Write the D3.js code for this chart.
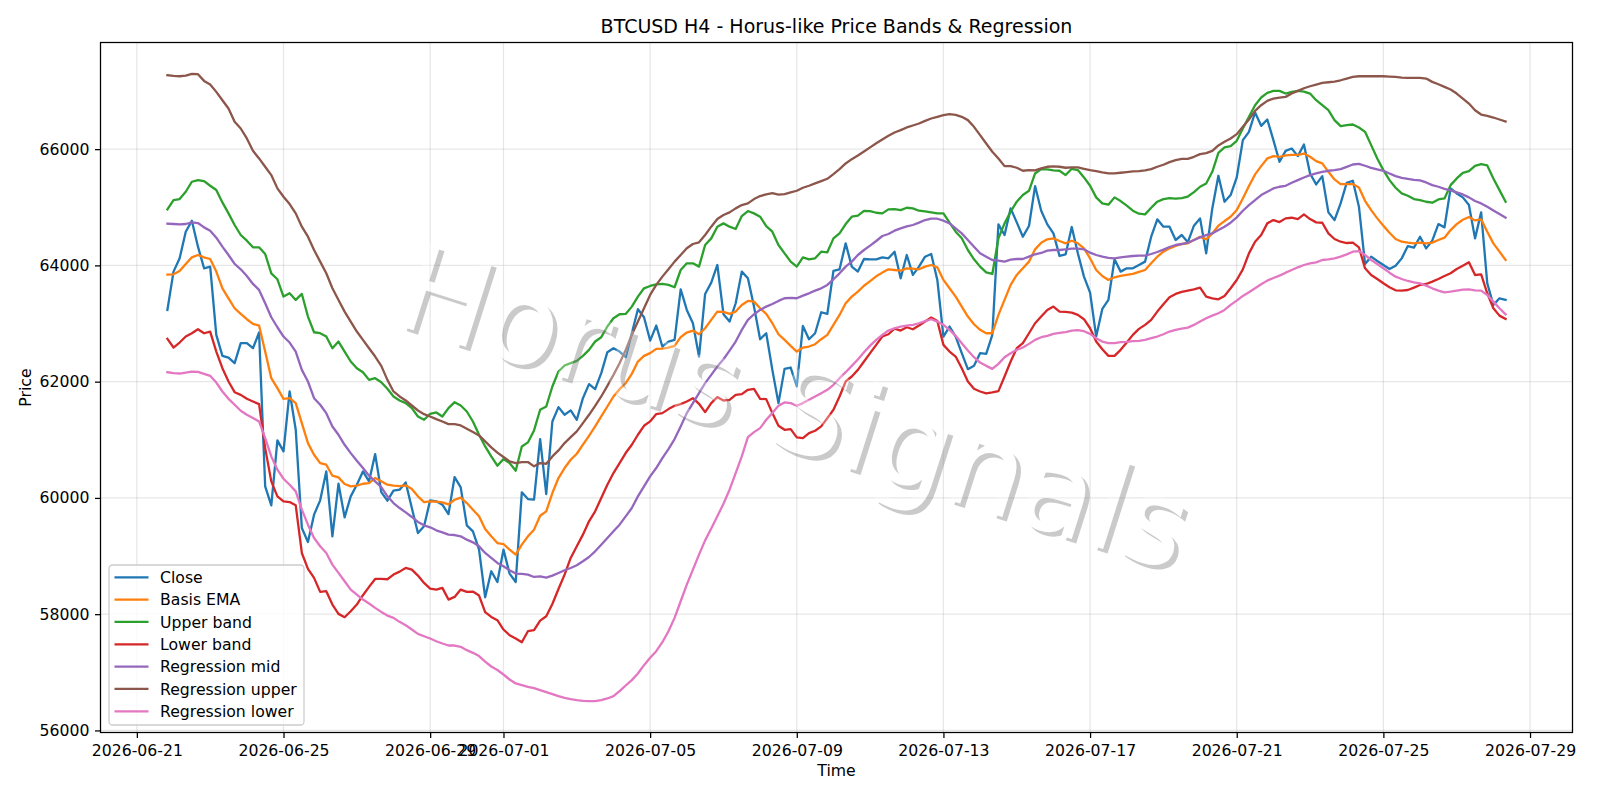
<!DOCTYPE html>
<html>
<head>
<meta charset="utf-8">
<title>BTCUSD H4</title>
<script src="https://cdn.jsdelivr.net/npm/d3@7/dist/d3.min.js"></script>
<style>
  html, body { margin: 0; padding: 0; background: #fff; }
  svg { display: block; font-family: "DejaVu Sans", sans-serif; }
</style>
</head>
<body>
<svg id="chart" width="1600" height="800"></svg>
<script>
// Four-hour bars: first bar time and bar spacing
const firstBar = "2026-06-21T20:00:00Z";
const barHours = 4;

const close = [
  63234,63893,64122,64580,64769,64322,63950,63979,62805,62444,
  62415,62318,62662,62662,62575,62845,60198,59872,60989,60800,
  61831,61172,59483,59242,59712,59958,60456,59340,60244,59666,
  60027,60227,60456,60285,60754,60101,59952,60124,60141,60267,
  59826,59397,59511,59958,59941,59884,59723,60359,60181,59528,
  59425,59110,58291,58738,58554,59110,58698,58554,60096,59981,
  59970,61012,60067,61315,61562,61430,61505,61344,61716,61957,
  61871,62146,62507,62576,62518,62421,62833,63246,63108,62707,
  62965,62604,62690,62719,63589,63234,63005,62432,63509,63704,
  64007,63160,63034,63349,63893,63778,63291,62730,62833,62203,
  61631,62220,62243,61917,62959,62730,62833,63194,63165,63904,
  63933,64379,63979,63893,64110,64105,64105,64139,64122,64236,
  63778,64179,63836,63979,64150,64196,63750,62776,62948,62776,
  62490,62215,62272,62490,62478,62805,64706,64523,64981,64740,
  64494,64677,65365,64941,64706,64551,64162,64191,64660,64208,
  63807,63532,62776,63251,63406,64105,63893,63950,63950,64007,
  64065,64494,64792,64666,64666,64437,64523,64400,64683,64809,
  64207,64980,65542,65095,65210,65513,66155,66298,66630,66401,
  66510,66155,65782,65971,66011,65880,66080,65582,65393,65536,
  64912,64780,65066,65421,65456,65009,64024,64150,64076,64007,
  63938,63995,64121,64333,64305,64494,64293,64425,64711,64654,
  65324,65238,65170,65038,64465,64912,63692,63320,63434,63406
];

const basisEma = [
  63841,63847,63904,64025,64139,64179,64139,64110,63893,63606,
  63434,63263,63165,63074,62994,62965,62518,62060,61888,61705,
  61716,61630,61287,60943,60743,60599,60571,60382,60353,60239,
  60199,60210,60244,60256,60342,60285,60227,60210,60204,60216,
  60153,60027,59929,59941,59935,59924,59889,59969,60004,59912,
  59798,59683,59465,59339,59224,59207,59110,59024,59196,59339,
  59454,59694,59769,60084,60342,60514,60657,60760,60915,61069,
  61230,61401,61573,61745,61871,61974,62134,62346,62444,62490,
  62564,62570,62587,62616,62765,62845,62879,62816,62919,63062,
  63206,63200,63165,63206,63320,63389,63377,63263,63165,63005,
  62816,62719,62616,62518,62587,62604,62644,62730,62805,62976,
  63148,63349,63463,63549,63650,63730,63812,63876,63933,63921,
  63910,63950,63944,63933,63979,64007,63967,63750,63606,63463,
  63291,63120,62988,62891,62833,62833,63148,63406,63664,63836,
  63950,64065,64276,64391,64448,64465,64420,64380,64425,64380,
  64294,64122,63921,63818,63750,63795,63818,63836,63853,63887,
  63921,64036,64150,64236,64294,64334,64368,64380,64437,64494,
  64448,64551,64683,64763,64837,64952,65152,65364,65565,65708,
  65840,65880,65868,65891,65903,65903,65925,65868,65794,65754,
  65610,65479,65399,65399,65399,65341,65112,64952,64809,64683,
  64562,64454,64408,64391,64379,64391,64379,64391,64437,64477,
  64608,64711,64786,64832,64774,64792,64580,64379,64236,64093
];

const upperBand = [
  64964,65124,65141,65267,65439,65468,65451,65370,65296,65084,
  64895,64695,64523,64425,64311,64311,64196,63864,63761,63463,
  63521,63406,63509,63120,62850,62833,62776,62575,62690,62518,
  62347,62232,62163,62031,62060,61991,61877,61745,61676,61630,
  61544,61401,61344,61447,61470,61401,61544,61647,61590,61487,
  61315,61086,60886,60714,60554,60668,60600,60468,60886,60955,
  61161,61516,61573,61917,62175,62278,62318,62358,62444,62547,
  62690,62765,62948,63091,63160,63165,63291,63463,63606,63646,
  63675,63681,63664,63624,63921,64036,64036,63979,64351,64465,
  64666,64723,64666,64626,64849,64935,64895,64838,64677,64580,
  64351,64208,64065,63979,64139,64105,64122,64236,64225,64465,
  64551,64712,64838,64855,64938,64935,64906,64895,64964,64969,
  64952,64992,64981,64941,64929,64912,64895,64895,64735,64580,
  64466,64265,64105,63979,63881,63853,64466,64723,64924,65096,
  65210,65284,65582,65657,65651,65634,65628,65554,65662,65640,
  65514,65370,65170,65067,65044,65170,65107,65027,64941,64889,
  64878,64992,65096,65141,65159,65147,65159,65185,65260,65353,
  65410,65610,65937,66029,66051,66143,66355,66555,66756,66888,
  66968,67002,67002,66956,66985,67002,66991,66956,66842,66756,
  66670,66498,66395,66412,66424,66372,66298,66069,65840,65639,
  65467,65336,65238,65198,65141,65124,65095,65078,65135,65152,
  65381,65496,65593,65622,65714,65742,65719,65496,65295,65095
];

const lowerBand = [
  62736,62587,62673,62776,62833,62902,62833,62862,62518,62232,
  62003,61819,61773,61705,61659,61613,60857,60284,60027,59941,
  59929,59872,59053,58778,58624,58383,58395,58165,58005,57948,
  58051,58165,58326,58469,58606,58606,58601,58681,58732,58795,
  58767,58664,58538,58440,58423,58452,58251,58297,58423,58383,
  58389,58320,58035,57953,57896,57736,57638,57581,57518,57707,
  57724,57890,57965,58176,58434,58680,58967,59167,59368,59597,
  59769,59998,60227,60428,60600,60772,60915,61087,61241,61316,
  61442,61459,61528,61585,61613,61659,61716,61619,61476,61630,
  61734,61676,61688,61774,61785,61860,61877,61705,61699,61459,
  61241,61172,61184,61041,61029,61115,61155,61230,61373,61516,
  61745,62003,62089,62203,62346,62490,62633,62776,62816,62913,
  62879,62936,62902,62965,63034,63103,63045,62633,62518,62432,
  62232,62003,61877,61831,61797,61814,61837,62089,62346,62576,
  62662,62833,63005,63120,63234,63291,63206,63200,63188,63148,
  63074,62919,62690,62558,62444,62444,62547,62673,62805,62908,
  62977,63062,63206,63331,63452,63509,63543,63566,63589,63617,
  63463,63434,63417,63474,63606,63749,63932,64207,64408,64522,
  64723,64780,64746,64809,64820,64797,64877,64797,64740,64734,
  64551,64454,64408,64385,64391,64310,63950,63835,63766,63692,
  63623,63572,63566,63577,63617,63663,63680,63720,63766,63818,
  63864,63938,63995,64053,63835,63847,63520,63262,63136,63079
];

const regressionMid = [
  64717,64712,64706,64712,64740,64729,64654,64597,64477,64322,
  64179,64025,63933,63818,63681,63578,63349,63108,62936,62776,
  62673,62518,62203,62003,61716,61602,61458,61229,61086,60914,
  60771,60640,60514,60382,60285,60187,60027,59912,59826,59752,
  59672,59586,59528,59494,59443,59408,59368,59362,59339,59282,
  59236,59168,59053,58967,58881,58824,58755,58698,58692,58680,
  58640,58652,58629,58663,58709,58755,58795,58841,58910,58984,
  59081,59196,59310,59426,59540,59683,59826,60027,60199,60371,
  60514,60686,60840,61012,61230,61459,61631,61802,61974,62117,
  62261,62386,62535,62690,62890,63062,63160,63234,63291,63337,
  63389,63435,63440,63435,63480,63520,63566,63606,63664,63761,
  63864,63979,64065,64179,64265,64340,64420,64506,64540,64597,
  64637,64672,64695,64735,64780,64803,64803,64769,64723,64637,
  64551,64437,64322,64208,64150,64093,64082,64065,64099,64110,
  64110,64150,64191,64214,64254,64265,64265,64276,64288,64288,
  64276,64219,64179,64150,64128,64122,64139,64150,64162,64168,
  64168,64196,64231,64271,64317,64351,64368,64390,64436,64482,
  64522,64551,64608,64665,64734,64826,64940,65038,65124,65210,
  65267,65324,65353,65370,65421,65467,65513,65553,65582,65610,
  65628,65639,65656,65696,65736,65748,65714,65679,65651,65628,
  65582,65536,65507,65490,65473,65462,65427,65381,65353,65318,
  65290,65255,65221,65170,65107,65066,65010,64946,64883,64820
];

const regressionUpper = [
  67272,67260,67254,67266,67295,67289,67174,67111,66985,66842,
  66699,66470,66355,66184,65972,65840,65697,65554,65325,65181,
  65055,64895,64666,64494,64265,64065,63864,63606,63406,63205,
  63034,62862,62719,62575,62432,62272,62031,61831,61745,61676,
  61590,61504,61441,61401,61355,61315,61269,61269,61247,61189,
  61132,61075,60972,60870,60780,60703,60628,60600,60617,60617,
  60543,60600,60588,60714,60817,60943,61046,61144,61287,61430,
  61585,61745,61928,62117,62318,62547,62805,63034,63263,63492,
  63664,63807,63933,64065,64179,64294,64368,64397,64523,64666,
  64798,64866,64912,64981,65038,65067,65141,65193,65221,65244,
  65216,65227,65256,65284,65336,65370,65410,65450,65490,65571,
  65657,65754,65828,65890,65960,66030,66100,66166,66229,66287,
  66327,66373,66407,66441,66487,66527,66556,66584,66602,66590,
  66556,66499,66384,66241,66098,65955,65840,65708,65708,65680,
  65628,65640,65634,65668,65697,65703,65697,65680,65685,65685,
  65662,65640,65622,65599,65582,65582,65594,65605,65617,65622,
  65634,65657,65697,65731,65777,65811,65834,65834,65868,65914,
  65931,65971,66063,66126,66183,66258,66384,66510,66659,66756,
  66830,66870,66888,66899,66956,67002,67048,67082,67111,67140,
  67151,67162,67185,67214,67243,67254,67254,67254,67254,67254,
  67248,67243,67231,67225,67225,67225,67214,67157,67117,67071,
  67025,66956,66870,66784,66670,66595,66573,66544,66510,66475
];

const regressionLower = [
  62163,62146,62140,62157,62174,62169,62134,62100,61985,61831,
  61705,61602,61499,61430,61373,61315,61029,60714,60485,60330,
  60227,60113,59798,59540,59311,59168,59053,58853,58710,58566,
  58423,58337,58251,58183,58108,58039,57976,57936,57868,57810,
  57736,57661,57621,57581,57535,57495,57461,57461,57438,57381,
  57335,57280,57185,57100,57040,56962,56876,56808,56779,56750,
  56727,56693,56659,56625,56590,56561,56539,56521,56510,56504,
  56504,56521,56550,56590,56676,56773,56865,56979,57123,57249,
  57363,57518,57707,57936,58222,58509,58766,59024,59270,59475,
  59683,59900,60141,60428,60714,61046,61132,61201,61344,61459,
  61585,61642,61631,61585,61631,61688,61745,61802,61860,61946,
  62060,62163,62272,62380,62505,62620,62719,62805,62879,62919,
  62948,62965,62977,63005,63040,63074,63034,62977,62890,62788,
  62662,62536,62421,62329,62272,62220,62306,62421,62490,62547,
  62587,62650,62719,62765,62788,62822,62839,62851,62879,62885,
  62868,62822,62747,62690,62662,62662,62679,62684,62696,62702,
  62719,62747,62776,62816,62862,62891,62913,62930,62976,63033,
  63091,63136,63177,63234,63320,63394,63475,63537,63606,63675,
  63738,63784,63824,63875,63921,63967,64007,64036,64053,64093,
  64104,64121,64150,64190,64236,64247,64179,64093,64024,63950,
  63875,63806,63766,63732,63709,63692,63652,63606,63566,63537,
  63549,63566,63583,63589,63572,63566,63491,63377,63262,63159
];

const seriesNames = ["Close", "Basis EMA", "Upper band", "Lower band",
                     "Regression mid", "Regression upper", "Regression lower"];
const seriesValues = [close, basisEma, upperBand, lowerBand,
                      regressionMid, regressionUpper, regressionLower];
const seriesColors = ["#1f77b4", "#ff7f0e", "#2ca02c", "#d62728",
                      "#9467bd", "#8c564b", "#e377c2"];

const xTickLabels = ["2026-06-21", "2026-06-25", "2026-06-29", "2026-07-01", "2026-07-05",
                     "2026-07-09", "2026-07-13", "2026-07-17", "2026-07-21", "2026-07-25", "2026-07-29"];
const yTickValues = [56000, 58000, 60000, 62000, 64000, 66000];

const chartTitle = "BTCUSD H4 - Horus-like Price Bands & Regression";
const watermarkText = "Horus Signals";

// Layout
const frame = { left: 100.5, right: 1572.5, top: 42.5, bottom: 732.5 };
const fontPx = 15.7, titlePx = 19;
const thin = 1.26, lineW = 2.3;

const svg = d3.select("#chart");

// Axes pad the data range by five per cent on both sides
const times = close.map((_, i) => d3.utcHour.offset(new Date(firstBar), i * barHours));
const allValues = seriesValues.flat();
const pad = (lo, hi) => [lo - (hi - lo) * 0.05, hi + (hi - lo) * 0.05];
const [t0, t1] = pad(+times[0], +times[times.length - 1]);
const [v0, v1] = pad(d3.min(allValues), d3.max(allValues));

const x = d3.scaleUtc().domain([new Date(t0), new Date(t1)]).range([frame.left, frame.right]);
const y = d3.scaleLinear().domain([v0, v1]).range([frame.bottom, frame.top]);
const xTicks = xTickLabels.map(s => new Date(s + "T00:00:00Z"));

// Grid
const grid = svg.append("g").attr("stroke", "#b0b0b0").attr("stroke-opacity", 0.3).attr("stroke-width", thin);
grid.selectAll("line.vx").data(xTicks).join("line").attr("class", "vx")
  .attr("x1", d => x(d)).attr("x2", d => x(d)).attr("y1", frame.top).attr("y2", frame.bottom);
grid.selectAll("line.hy").data(yTickValues).join("line").attr("class", "hy")
  .attr("y1", d => y(d)).attr("y2", d => y(d)).attr("x1", frame.left).attr("x2", frame.right);

// Price and band lines
const line = d3.line().x((_, i) => x(times[i])).y(d => y(d));
svg.append("g").selectAll("path").data(seriesValues).join("path")
  .attr("d", line)
  .attr("fill", "none")
  .attr("stroke", (_, i) => seriesColors[i])
  .attr("stroke-width", lineW)
  .attr("stroke-linejoin", "round")
  .attr("stroke-linecap", "square");

// Embossed watermark laid over the lines: a grey rim peeks out behind pale lettering
const wmOrigin = { x: 391, y: 323 }, wmAngle = 17.6, wmSize = 120, wmRim = 4.5;
const wmTransform = off => `translate(${wmOrigin.x + off},${wmOrigin.y + off}) rotate(${wmAngle})`;
const mask = svg.append("defs").append("mask").attr("id", "wm-mask").attr("maskUnits", "userSpaceOnUse")
  .attr("x", 0).attr("y", 0).attr("width", 1600).attr("height", 800);
mask.append("rect").attr("width", 1600).attr("height", 800).attr("fill", "#fff");
mask.append("text").text(watermarkText).attr("transform", wmTransform(0))
  .attr("font-size", wmSize).attr("fill", "#000");
const wm = svg.append("g");
wm.append("g").attr("mask", "url(#wm-mask)")
  .append("text").text(watermarkText).attr("transform", wmTransform(wmRim))
  .attr("font-size", wmSize).attr("fill", "#808080").attr("fill-opacity", 0.42);
wm.append("text").text(watermarkText).attr("transform", wmTransform(0))
  .attr("font-size", wmSize).attr("fill", "#fff").attr("fill-opacity", 0.3);

// Axes
const xAxis = d3.axisBottom(x).tickValues(xTicks).tickFormat(d3.utcFormat("%Y-%m-%d"))
  .tickSize(5.5).tickPadding(6.5);
const yAxis = d3.axisLeft(y).tickValues(yTickValues).tickFormat(d3.format("d"))
  .tickSize(5.5).tickPadding(5.5);
const styleAxis = g => {
  g.select(".domain").remove();
  g.selectAll("line").attr("stroke", "#000").attr("stroke-width", thin);
  g.selectAll("text").attr("fill", "#000").attr("font-size", fontPx)
    .attr("font-family", '"DejaVu Sans", sans-serif');
};
svg.append("g").attr("transform", `translate(0,${frame.bottom})`).call(xAxis).call(styleAxis);
svg.append("g").attr("transform", `translate(${frame.left},0)`).call(yAxis).call(styleAxis);

svg.append("rect")
  .attr("x", frame.left).attr("y", frame.top)
  .attr("width", frame.right - frame.left).attr("height", frame.bottom - frame.top)
  .attr("fill", "none").attr("stroke", "#000").attr("stroke-width", thin);

// Titles
const midX = (frame.left + frame.right) / 2;
svg.append("text").text(chartTitle).attr("x", midX).attr("y", 32.5)
  .attr("text-anchor", "middle").attr("font-size", titlePx).attr("fill", "#000");
svg.append("text").text("Time").attr("x", midX).attr("y", 776)
  .attr("text-anchor", "middle").attr("font-size", fontPx).attr("fill", "#000");
svg.append("text").text("Price")
  .attr("transform", `translate(31,${(frame.top + frame.bottom) / 2}) rotate(-90)`)
  .attr("text-anchor", "middle").attr("font-size", fontPx).attr("fill", "#000");

// Legend
const legend = svg.append("g");
legend.append("rect").attr("x", 109).attr("y", 565).attr("width", 195).attr("height", 160).attr("rx", 3.5)
  .attr("fill", "#fff").attr("fill-opacity", 0.8).attr("stroke", "#ccc").attr("stroke-width", thin);
const row = legend.selectAll("g.row").data(seriesNames).join("g").attr("class", "row")
  .attr("transform", (_, i) => `translate(0,${577.3 + i * 22.33})`);
row.append("line").attr("x1", 114.5).attr("x2", 148.5)
  .attr("stroke", (_, i) => seriesColors[i]).attr("stroke-width", lineW);
row.append("text").text(d => d).attr("x", 160).attr("y", 5.7)
  .attr("font-size", fontPx).attr("fill", "#000");
</script>
</body>
</html>
